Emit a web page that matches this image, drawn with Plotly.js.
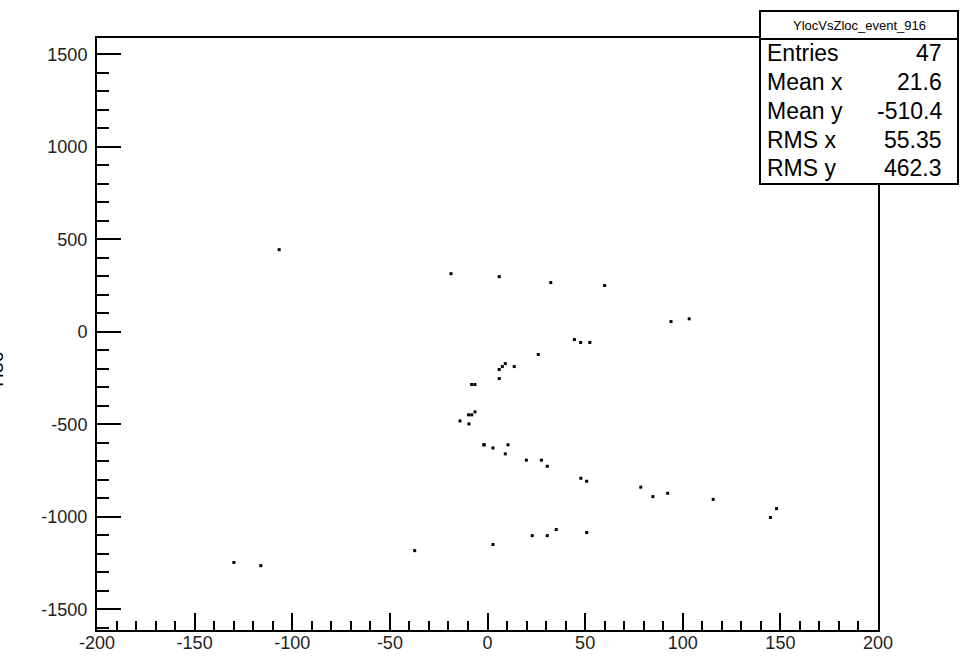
<!DOCTYPE html>
<html>
<head>
<meta charset="utf-8">
<script src="https://cdn.plot.ly/plotly-3.0.1.min.js"></script>
<style>html,body{margin:0;padding:0;background:#fff;}#chart{width:969px;height:656px;}</style>
</head>
<body>
<div id="chart"></div>
<script>
// Zloc (x) and Yloc (y) of the hits
const zloc = [-106.7, -18.7, 6.0, 32.4, 60.0, 94.0, 44.5, 47.7, 52.4, 26.0,
  9.1, 7.6, 6.0, 13.7, 6.0, -8.1, -6.4, -9.7, -8.1, -6.4,
  -14.1, -9.5, -1.8, 2.8, 10.5, 9.1, 19.9, 27.6, 30.6, 47.8,
  50.8, 78.5, 84.7, 92.3, 2.8, 22.9, 30.6, 35.2, 50.8, 103.3,
  115.6, 148.0, 144.9, -129.9, -116.1, -37.3, -1.8];
const yloc = [444, 314, 298, 266, 250, 55, -42, -58, -58, -123,
  -172, -188, -204, -188, -253, -285, -285, -449, -449, -433,
  -482, -498, -611, -628, -611, -660, -694, -694, -727, -792,
  -808, -840, -891, -873, -1150, -1102, -1102, -1069, -1085, 70,
  -906, -956, -1004, -1247, -1264, -1183, -611];

const xTickVals = [-200, -150, -100, -50, 0, 50, 100, 150, 200];
const xTickText = ["-200", "-150", "-100", "-50", "0", "50", "100", "150", "200"];
const yTickVals = [-1500, -1000, -500, 0, 500, 1000, 1500];
const yTickText = ["-1500", "-1000", "-500", "0", "500", "1000", "1500"];

const histTitle = "YlocVsZloc_event_916";
const statLabels = ["Entries", "Mean x", "Mean y", "RMS x", "RMS y"];
const statValues = ["47", "21.6", "-510.4", "55.35", "462.3"];
const yTitle = "Yloc";

const FONT = "Liberation Sans, Arial, Helvetica, sans-serif";
// plot area in pixels: left 97, right 878, top 38, bottom 630
const PL = 97, PW = 781, PT = 38, PH = 592;
const px2x = p => (p - PL) / PW;
const py2y = p => (PT + PH - p) / PH;

const rowsY = [53, 82, 111, 140, 168];
const annotations = [];
annotations.push({xref:'paper', yref:'paper', x:px2x(859), y:py2y(25), text:histTitle,
  showarrow:false, xanchor:'center', yanchor:'middle', font:{family:FONT, size:13, color:'#000000'}});
statLabels.forEach((l,i)=>{
  annotations.push({xref:'paper', yref:'paper', x:px2x(765), y:py2y(rowsY[i]), text:l,
    showarrow:false, xanchor:'left', yanchor:'middle', font:{family:FONT, size:23, color:'#000000'}});
  annotations.push({xref:'paper', yref:'paper', x:px2x(944), y:py2y(rowsY[i]), text:statValues[i],
    showarrow:false, xanchor:'right', yanchor:'middle', font:{family:FONT, size:23, color:'#000000'}});
});
annotations.push({xref:'paper', yref:'paper', x:px2x(9), y:py2y(372), text:yTitle, textangle:-90,
  showarrow:false, xanchor:'right', yanchor:'middle', font:{family:FONT, size:20, color:'#000000'}});

const shapes = [
  {type:'rect', xref:'paper', yref:'paper', x0:px2x(760), x1:px2x(958), y0:py2y(184), y1:py2y(11),
   line:{color:'#000', width:2}, fillcolor:'#fff', layer:'above'},
  {type:'line', xref:'paper', yref:'paper', x0:px2x(760), x1:px2x(958), y0:py2y(39), y1:py2y(39),
   line:{color:'#000', width:2}, layer:'above'}
];

const trace = {
  x: zloc, y: yloc, type:'scatter', mode:'markers',
  marker:{symbol:'square', size:3, color:'#000', line:{width:0}},
  hoverinfo:'x+y'
};

const layout = {
  width:969, height:656,
  margin:{l:PL, r:969-PL-PW, t:PT, b:656-PT-PH, pad:0},
  paper_bgcolor:'#fff', plot_bgcolor:'#fff',
  showlegend:false,
  font:{family:FONT, color:'#111'},
  xaxis:{range:[-200,200], tickmode:'array', tickvals:xTickVals, ticktext:xTickText,
    ticks:'inside', ticklen:17, tickwidth:2, tickcolor:'#000',
    minor:{tickmode:'linear', tick0:-200, dtick:10, ticks:'inside', ticklen:9, tickwidth:2, tickcolor:'#000', showgrid:false},
    showgrid:false, zeroline:false, showline:true, linecolor:'#000', linewidth:2, mirror:true,
    tickfont:{family:FONT, size:18, color:'#222'}, ticklabelstandoff:-5},
  yaxis:{range:[-1612,1588], tickmode:'array', tickvals:yTickVals, ticktext:yTickText,
    ticks:'inside', ticklen:24, tickwidth:2, tickcolor:'#000',
    minor:{tickmode:'linear', tick0:-1500, dtick:100, ticks:'inside', ticklen:12, tickwidth:2, tickcolor:'#000', showgrid:false},
    showgrid:false, zeroline:false, showline:true, linecolor:'#000', linewidth:2, mirror:true,
    tickfont:{family:FONT, size:18, color:'#222'}, ticklabelstandoff:4},
  annotations: annotations,
  shapes: shapes
};

Plotly.newPlot('chart', [trace], layout, {displayModeBar:false, staticPlot:true});
</script>
</body>
</html>
